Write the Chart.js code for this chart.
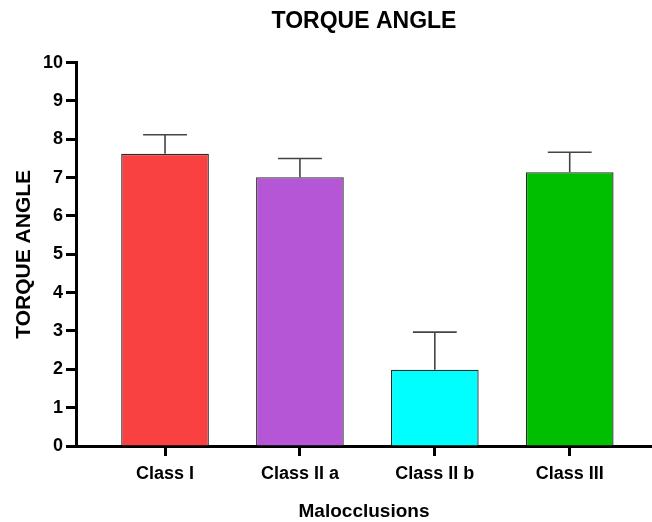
<!DOCTYPE html>
<html>
<head>
<meta charset="utf-8">
<script src="https://cdn.jsdelivr.net/npm/chart.js@4"></script>
<style>
  html, body { margin: 0; padding: 0; background: #fff; }
  #wrap { width: 652px; height: 522px; }
</style>
</head>
<body>
<div id="wrap"><canvas id="c" width="652" height="522"></canvas></div>
<script>
const categories = ["Class I", "Class II a", "Class II b", "Class III"];
const means = [7.62, 7.01, 1.99, 7.14];
const errors = [0.50, 0.49, 0.98, 0.52];
const barColors = ["#F94141", "#B556D6", "#00FFFF", "#00BF00"];
const yTicks = [0, 1, 2, 3, 4, 5, 6, 7, 8, 9, 10];

const FONT = "'Liberation Sans', Arial, sans-serif";

const errorBarPlugin = {
  id: 'errorBars',
  afterDatasetsDraw(chart) {
    const meta = chart.getDatasetMeta(0);
    const yScale = chart.scales.y;
    const ctx = chart.ctx;
    ctx.save();
    ctx.strokeStyle = '#444';
    ctx.lineWidth = 1.6;
    meta.data.forEach((bar, i) => {
      const yTop = yScale.getPixelForValue(means[i] + errors[i]);
      const yBase = yScale.getPixelForValue(means[i]);
      const half = bar.width / 4;
      ctx.beginPath();
      ctx.moveTo(bar.x, yBase);
      ctx.lineTo(bar.x, yTop);
      ctx.moveTo(bar.x - half, yTop);
      ctx.lineTo(bar.x + half, yTop);
      ctx.stroke();
    });
    ctx.restore();
  }
};

new Chart(document.getElementById('c'), {
  type: 'bar',
  data: {
    datasets: [{
      data: means.map((v, i) => ({ x: i, y: v })),
      backgroundColor: barColors,
      borderColor: '#2a2a2a',
      borderWidth: 1.3,
      barPercentage: 0.65,
      categoryPercentage: 1
    }]
  },
  options: {
    responsive: false,
    animation: false,
    layout: { padding: { left: 0, right: 0, top: 0, bottom: 0 } },
    plugins: {
      legend: { display: false },
      tooltip: { enabled: false },
      title: {
        display: true,
        text: 'TORQUE ANGLE',
        fullSize: false,
        color: '#000',
        font: { family: FONT, size: 23, weight: 'bold', lineHeight: 1.2 },
        padding: { top: 8, bottom: 27 }
      }
    },
    scales: {
      x: {
        type: 'linear',
        min: -0.66,
        max: 3.61,
        offset: false,
        z: 1,
        afterFit: (s) => { s.height = 76; },
        afterBuildTicks: (s) => { s.ticks = categories.map((_, i) => ({ value: i })); },
        ticks: {
          autoSkip: false,
          color: '#000',
          padding: 7,
          font: { family: FONT, size: 18, weight: 'bold' },
          callback: (v) => categories[v]
        },
        grid: {
          display: true,
          offset: false,
          drawOnChartArea: false,
          drawTicks: true,
          tickLength: 10,
          tickWidth: 3,
          tickColor: '#000'
        },
        border: { display: true, color: '#000', width: 3 },
        title: {
          display: true,
          text: 'Malocclusions',
          color: '#000',
          font: { family: FONT, size: 19, weight: 'bold', lineHeight: 1 },
          padding: { top: 0, bottom: 0.5 }
        }
      },
      y: {
        min: 0,
        max: 10,
        afterFit: (s) => { s.width = 76; },
        afterBuildTicks: (s) => { s.ticks = yTicks.map(v => ({ value: v })); },
        ticks: {
          color: '#000',
          padding: 3,
          font: { family: FONT, size: 18, weight: 'bold' }
        },
        grid: {
          display: true,
          drawOnChartArea: false,
          drawTicks: true,
          tickLength: 10,
          tickWidth: 3,
          tickColor: '#000'
        },
        border: { display: true, color: '#000', width: 3 },
        title: {
          display: true,
          text: 'TORQUE ANGLE',
          color: '#000',
          font: { family: FONT, size: 21, weight: 'bold', lineHeight: 1 },
          padding: { top: 14, bottom: 0 }
        }
      }
    }
  },
  plugins: [errorBarPlugin]
});
</script>
</body>
</html>
